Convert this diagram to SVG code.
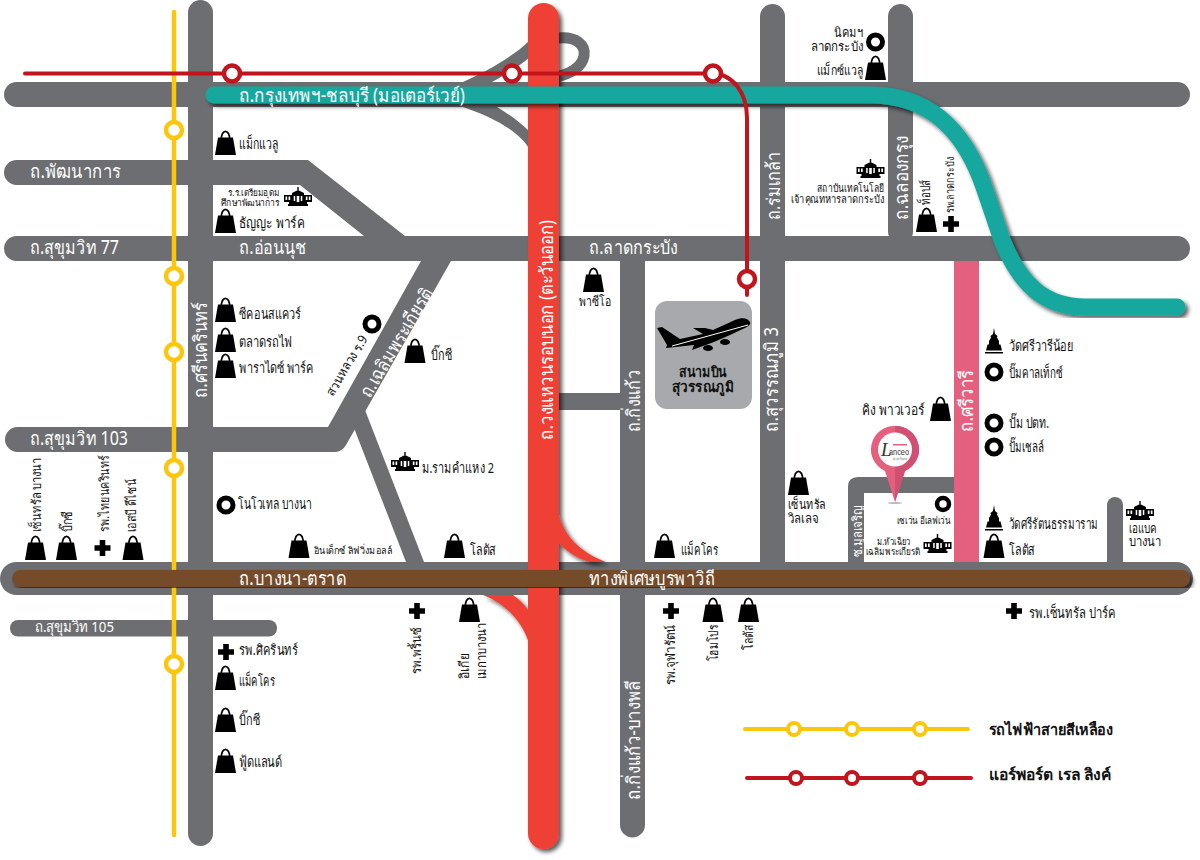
<svg xmlns="http://www.w3.org/2000/svg" width="1200" height="860" viewBox="0 0 1200 860">
<style>
text{font-family:"Noto Sans","Liberation Sans",sans-serif;font-size:14.500px;fill:#111}
.w{fill:#fff;font-size:19px}
.s{font-size:13px}
.b{font-weight:bold}
.road{fill:#6d6e71}
.rl{fill:none;stroke:#6d6e71;stroke-linecap:round}
.ys{fill:#fff;stroke:#fcc60d}
.rs{fill:#fff;stroke:#c1141c}
</style>
<defs>
<filter id="sh" x="-5%" y="-5%" width="110%" height="110%"><feDropShadow dx="3" dy="3" stdDeviation="2" flood-color="#000" flood-opacity=".65"/></filter>
<g id="bag"><path d="M3 7.500H18L21 25H0Z" fill="#000"/><path d="M6.300 10C6 -1.500 15 -1.500 14.700 10" fill="none" stroke="#000" stroke-width="1.700"/></g>
<circle id="ring" r="7" fill="#fff" stroke="#000" stroke-width="5"/>
<path id="cross" d="M-2.800 -8H2.800V-2.800H8V2.800H2.800V8H-2.800V2.800H-8V-2.800H-2.800Z" fill="#000"/>
<g id="bld" fill="#000"><path d="M-14 -4H-6V-6L0 -9L6 -6V-4H14V3H9V5H10V7H-10V5H-9V3H-14Z"/><path d="M-.700 -9V-12H.700V-9Z"/><rect x="-12.500" y="-2.500" width="1.700" height="3.500" fill="#fff"/><rect x="-9.500" y="-2.500" width="1.700" height="3.500" fill="#fff"/><rect x="7.800" y="-2.500" width="1.700" height="3.500" fill="#fff"/><rect x="10.800" y="-2.500" width="1.700" height="3.500" fill="#fff"/><rect x="-1.300" y="-3" width="2.600" height="6" fill="#fff"/><rect x="-4.300" y="-3" width="1.500" height="5" fill="#fff"/><rect x="2.800" y="-3" width="1.500" height="5" fill="#fff"/></g>
<path id="tmp" d="M0 -14L1 -8L3.500 -6L3 -4.500L5 -1V2.500H6.500L8 8.500H-8L-6.500 2.500H-5V-1L-3 -4.500L-3.500 -6L-1 -8ZM-9 10H9V11.500H-9Z" fill="#000"/>
</defs>

<g id="connectors">
<g id="roads">
<rect class="road" x="188" y="0" width="25" height="846" rx="12.500"/>
<rect class="road" x="4" y="82" width="1186" height="25" rx="12.500"/>
<path class="road" d="M16.500 160H308L405 236H364L300 185H16.500A12.500 12.500 0 0 1 16.500 160Z"/>
<rect class="road" x="4" y="236" width="1186" height="25" rx="12.500"/>
<path class="road" d="M17.500 427H328L421 261H451L346 445Q342 452 335 452H17.500A12.500 12.500 0 0 1 17.500 427Z"/>
<path class="road" d="M365 410L424 562H406L354 428Z"/>
<rect class="road" x="10" y="620" width="267" height="16.500" rx="8"/>
<path class="road" d="M620 255H645V825A12.500 12.500 0 0 1 620 825Z"/>
<rect class="road" x="558" y="393" width="62" height="17"/>
<rect class="road" x="760" y="4" width="25" height="570" rx="12.500"/>
<rect class="road" x="888" y="4" width="25" height="240" rx="12.500"/>
<path class="road" d="M848 570V487Q848 477 858 477H960V493H864V570Z"/>
<path class="road" d="M1107 570V505A8 8 0 0 1 1123 505V570Z"/>
<rect class="road" x="0" y="562" width="1193" height="33" rx="16.500"/>
<path class="road" d="M463 82C490 70 515 55 530 40V57C520 66 505 75 492 82Z"/>
<path class="rl" d="M558 38C576 36 586 45 584 56C582 67 572 74 552 78" stroke-width="11"/>
<path class="road" d="M463 107C495 118 520 132 530 150V132C520 122 510 115 497 107Z"/>
</g>
<path id="sriwari" d="M954 261H979V562H954Z" fill="#e5607f"/>
<g id="ring-road" filter="url(#sh)">
<path d="M558 510C562 535 580 552 606 562H590C575 558 565 550 558 542Z" fill="#ef4136"/>
<path d="M483 595C510 605 528 630 530 650V613C525 605 520 600 513 595Z" fill="#ef4136"/>
<rect x="528" y="3" width="31" height="846" rx="15.500" fill="#ef4136"/>
</g>
<line id="yellow-line" x1="174" y1="12" x2="174" y2="835" stroke="#fcc60d" stroke-width="4.500" stroke-linecap="round"/>
<path id="motorway" d="M214 95H870C930 95 965 130 985 190L1002 240C1020 285 1045 307 1085 307H1177" fill="none" stroke="#13a89e" stroke-width="17" stroke-linecap="round" filter="url(#sh)"/>
<rect id="bangna" x="12" y="570" width="1178" height="17" rx="8.500" fill="#754c29" filter="url(#sh)"/>
<path id="arl" d="M25 73.500H712C732 73.500 747 92 747 118V295" fill="none" stroke="#c1141c" stroke-width="4" stroke-linecap="round"/>
</g>

<g id="stations" stroke-width="4.500">
<circle class="ys" cx="174" cy="130" r="8"/><circle class="ys" cx="174" cy="276" r="8"/><circle class="ys" cx="174" cy="352" r="8"/><circle class="ys" cx="174" cy="468" r="8"/><circle class="ys" cx="174" cy="664" r="8"/>
<circle class="rs" cx="232" cy="73.500" r="8"/><circle class="rs" cx="512" cy="73.500" r="8"/><circle class="rs" cx="713" cy="73.500" r="8"/><circle class="rs" cx="747" cy="279" r="8"/>
</g>

<g id="road-labels">
<text class="w" x="239" y="102" textLength="226" lengthAdjust="spacingAndGlyphs">ถ.กรุงเทพฯ-ชลบุรี (มอเตอร์เวย์)</text>
<text class="w" x="30" y="178" textLength="91" lengthAdjust="spacingAndGlyphs">ถ.พัฒนาการ</text>
<text class="w" x="30" y="254" textLength="89" lengthAdjust="spacingAndGlyphs">ถ.สุขุมวิท 77</text>
<text class="w" x="239" y="254" textLength="67" lengthAdjust="spacingAndGlyphs">ถ.อ่อนนุช</text>
<text class="w" x="589" y="254" textLength="89" lengthAdjust="spacingAndGlyphs">ถ.ลาดกระบัง</text>
<text class="w" x="30" y="445" textLength="98" lengthAdjust="spacingAndGlyphs">ถ.สุขุมวิท 103</text>
<text class="w" x="239" y="585" textLength="107" lengthAdjust="spacingAndGlyphs">ถ.บางนา-ตราด</text>
<text class="w" x="589" y="585" textLength="126" lengthAdjust="spacingAndGlyphs">ทางพิเศษบูรพาวิถี</text>
<text class="w" x="35" y="632" style="font-size:15px" textLength="79" lengthAdjust="spacingAndGlyphs">ถ.สุขุมวิท 105</text>
<text class="w" transform="translate(780 220) rotate(-90)" textLength="68" lengthAdjust="spacingAndGlyphs">ถ.ร่มเกล้า</text>
<text class="w" transform="translate(908 220) rotate(-90)" textLength="84" lengthAdjust="spacingAndGlyphs">ถ.ฉลองกรุง</text>
<text class="w" transform="translate(207 398) rotate(-90)" textLength="96" lengthAdjust="spacingAndGlyphs">ถ.ศรีนครินทร์</text>
<text class="w" transform="translate(370 399) rotate(-59)" textLength="124" lengthAdjust="spacingAndGlyphs">ถ.เฉลิมพระเกียรติ</text>
<text class="w" transform="translate(553 440) rotate(-90)" textLength="220" lengthAdjust="spacingAndGlyphs">ถ.วงแหวนรอบนอก (ตะวันออก)</text>
<text class="w" transform="translate(640 432) rotate(-90)" textLength="62" lengthAdjust="spacingAndGlyphs">ถ.กิ่งแก้ว</text>
<text class="w" transform="translate(640 800) rotate(-90)" textLength="120" lengthAdjust="spacingAndGlyphs">ถ.กิ่งแก้ว-บางพลี</text>
<text class="w" transform="translate(778 432) rotate(-90)" textLength="105" lengthAdjust="spacingAndGlyphs">ถ.สุวรรณภูมิ 3</text>
<text class="w" transform="translate(973 432) rotate(-90)" textLength="62" lengthAdjust="spacingAndGlyphs">ถ.ศรีวารี</text>
<text class="w" transform="translate(862 557) rotate(-90)" style="font-size:13px" textLength="52" lengthAdjust="spacingAndGlyphs">ซ.มูลเจริญ</text>
</g>

<g id="airport">
<rect x="655" y="301" width="97" height="108" rx="12" fill="#a7a9ac"/>
<path d="M750 322C748 318 742 317 735 320L713 330L705 328L693 328L703 334L680 339L662 327L657 328L667 345L666 348L694 345L692 350L714 342L730 335L745 328C749 326 751 324 750 322Z" fill="#000"/>
<ellipse cx="708" cy="348" rx="5" ry="3" fill="#000"/>
<ellipse cx="725" cy="342" rx="5" ry="3" fill="#000"/>
<path d="M672 346L748 325" stroke="#fff" stroke-width="1"/>
<text class="b" x="703" y="377" text-anchor="middle" textLength="48" lengthAdjust="spacingAndGlyphs">สนามบิน</text>
<text class="b" x="703" y="392" text-anchor="middle" textLength="62" lengthAdjust="spacingAndGlyphs">สุวรรณภูมิ</text>
</g>

<g id="pin">
<ellipse cx="895" cy="503" rx="7" ry="1" fill="#bbb"/>
<path d="M895 426A23.500 23.500 0 0 0 885 471L895 502L905 471A23.500 23.500 0 0 0 895 426Z" fill="#e5607f"/>
<path d="M895 426A23.500 23.500 0 0 1 905 471L895 502Z" fill="#d14f70"/>
<circle cx="895" cy="449.500" r="17" fill="#fff"/>
<rect x="893" y="444" width="14" height="1.500" fill="#e5607f"/>
<text x="881" y="456" style="font-size:19px;fill:#333;font-style:italic;font-family:'Liberation Serif',serif">L</text>
<text x="889" y="455" style="font-size:9px;fill:#333;font-family:'Liberation Sans',sans-serif" textLength="20" lengthAdjust="spacingAndGlyphs">anceo</text>
<text x="893" y="460" style="font-size:3.500px;fill:#666;font-family:'Liberation Sans',sans-serif" textLength="14" lengthAdjust="spacingAndGlyphs">by Lalin Property</text>
</g>

<g id="pois">
<g id="p1"><use href="#bag" x="215" y="130"/><text x="239" y="149" textLength="39" lengthAdjust="spacingAndGlyphs">แม็กแวลู</text></g>
<g id="p2"><use href="#bld" x="298" y="199"/><text x="279" y="196" text-anchor="end" style="font-size:9.500px" textLength="51" lengthAdjust="spacingAndGlyphs">ร.ร.เตรียมอุดม</text><text x="279" y="206" text-anchor="end" style="font-size:9.500px" textLength="58" lengthAdjust="spacingAndGlyphs">ศึกษาพัฒนาการ</text></g>
<g id="p3"><use href="#bag" x="215" y="208"/><text x="239" y="228" textLength="66" lengthAdjust="spacingAndGlyphs">ธัญญะ พาร์ค</text></g>
<g id="p4"><use href="#ring" x="875.500" y="42"/><text class="s" x="863" y="37" text-anchor="end" textLength="29" lengthAdjust="spacingAndGlyphs">นิคมฯ</text><text class="s" x="863" y="51" text-anchor="end" textLength="52" lengthAdjust="spacingAndGlyphs">ลาดกระบัง</text></g>
<g id="p5"><use href="#bag" x="865" y="55"/><text class="s" x="863" y="75" text-anchor="end" textLength="46" lengthAdjust="spacingAndGlyphs">แม็กซ์แวลู</text></g>
<g id="p6"><use href="#bld" x="870.500" y="171"/><text x="884" y="192" text-anchor="end" style="font-size:11px" textLength="67" lengthAdjust="spacingAndGlyphs">สถาบันเทคโนโลยี</text><text x="884" y="203" text-anchor="end" style="font-size:11px" textLength="93" lengthAdjust="spacingAndGlyphs">เจ้าคุณทหารลาดกระบัง</text></g>
<g id="p7"><use href="#bag" x="916" y="207"/><text class="s" transform="translate(930 205) rotate(-90)" textLength="25" lengthAdjust="spacingAndGlyphs">ท็อปส์</text></g>
<g id="p8"><use href="#cross" x="951" y="224"/><text transform="translate(954 213) rotate(-90)" style="font-size:11px" textLength="56" lengthAdjust="spacingAndGlyphs">รพ.ลาดกระบัง</text></g>
<g id="p9"><use href="#bag" x="583" y="267"/><text class="s" x="579" y="306" textLength="32" lengthAdjust="spacingAndGlyphs">พาซีโอ</text></g>
<g id="p10"><use href="#bag" x="215" y="297"/><text x="239" y="319" textLength="62" lengthAdjust="spacingAndGlyphs">ซีคอนสแควร์</text></g>
<g id="p11"><use href="#bag" x="215" y="327"/><text x="239" y="347" textLength="53" lengthAdjust="spacingAndGlyphs">ตลาดรถไฟ</text></g>
<g id="p12"><use href="#bag" x="215" y="353"/><text x="239" y="373" textLength="75" lengthAdjust="spacingAndGlyphs">พาราไดซ์ พาร์ค</text></g>
<g id="p13"><use href="#bag" x="404.500" y="338"/><text x="431" y="360" textLength="21" lengthAdjust="spacingAndGlyphs">บิ๊กซี</text></g>
<g id="p14"><use href="#ring" x="372" y="324"/><text class="s" transform="translate(333 397) rotate(-59)" textLength="68" lengthAdjust="spacingAndGlyphs">สวนหลวง ร.9</text></g>
<g id="p15"><use href="#bag" x="930" y="396"/><text x="925" y="415" text-anchor="end" textLength="63" lengthAdjust="spacingAndGlyphs">คิง พาวเวอร์</text></g>
<g id="p16"><use href="#tmp" x="994" y="342"/><text x="1009" y="351" textLength="64" lengthAdjust="spacingAndGlyphs">วัดศรีวารีน้อย</text></g>
<g id="p17"><use href="#ring" x="994" y="372"/><text x="1009" y="378" textLength="54" lengthAdjust="spacingAndGlyphs">ปั๊มคาลเท็กซ์</text></g>
<g id="p18"><use href="#ring" x="994" y="423"/><text x="1009" y="428" textLength="40" lengthAdjust="spacingAndGlyphs">ปั๊ม ปตท.</text></g>
<g id="p19"><use href="#ring" x="994" y="447"/><text x="1009" y="452" textLength="35" lengthAdjust="spacingAndGlyphs">ปั๊มเชลล์</text></g>
<g id="p20"><use href="#tmp" x="994" y="519"/><text x="1009" y="529" textLength="89" lengthAdjust="spacingAndGlyphs">วัดศรีรัตนธรรมาราม</text></g>
<g id="p21"><use href="#bag" x="983.500" y="533"/><text x="1009" y="555" textLength="26" lengthAdjust="spacingAndGlyphs">โลตัส</text></g>
<g id="p22"><use href="#bag" x="788" y="470"/><text class="s" x="788" y="509" textLength="38" lengthAdjust="spacingAndGlyphs">เซ็นทรัล</text><text class="s" x="788" y="523" textLength="31" lengthAdjust="spacingAndGlyphs">วิลเลจ</text></g>
<g id="p23"><circle cx="943" cy="504" r="6" fill="#fff" stroke="#000" stroke-width="4.500"/><text x="951" y="524" text-anchor="end" style="font-size:10px" textLength="54" lengthAdjust="spacingAndGlyphs">เซเว่น อีเลฟเว่น</text></g>
<g id="p24"><use href="#bld" x="937.500" y="546"/><text x="911" y="545" text-anchor="end" style="font-size:10px" textLength="34" lengthAdjust="spacingAndGlyphs">ม.หัวเฉียว</text><text x="920" y="555" text-anchor="end" style="font-size:10px" textLength="54" lengthAdjust="spacingAndGlyphs">เฉลิมพระเกียรติ</text></g>
<g id="p25"><use href="#bld" x="1140" y="513"/><text class="s" x="1129" y="533" textLength="28" lengthAdjust="spacingAndGlyphs">เอแบค</text><text class="s" x="1129" y="546" textLength="32" lengthAdjust="spacingAndGlyphs">บางนา</text></g>
<g id="p26"><use href="#bag" x="654" y="533"/><text x="681" y="555" textLength="37" lengthAdjust="spacingAndGlyphs">แม็คโคร</text></g>
<g id="p27"><use href="#bag" x="444" y="533"/><text x="470" y="555" textLength="26" lengthAdjust="spacingAndGlyphs">โลตัส</text></g>
<g id="p28"><use href="#bag" x="288.500" y="533"/><text x="314" y="554" style="font-size:10px" textLength="78" lengthAdjust="spacingAndGlyphs">อินเด็กซ์ ลิฟวิ่งมอลล์</text></g>
<g id="p29"><use href="#bld" x="405" y="464"/><text x="422" y="473" textLength="72" lengthAdjust="spacingAndGlyphs">ม.รามคำแหง 2</text></g>
<g id="p30"><use href="#ring" x="226" y="505"/><text x="238" y="509" textLength="74" lengthAdjust="spacingAndGlyphs">โนโวเทล บางนา</text></g>
<g id="p31"><use href="#bag" x="25" y="535"/><text class="s" transform="translate(41 532) rotate(-90)" textLength="74" lengthAdjust="spacingAndGlyphs">เซ็นทรัล บางนา</text></g>
<g id="p32"><use href="#bag" x="56" y="535"/><text class="s" transform="translate(72 532) rotate(-90)" textLength="21" lengthAdjust="spacingAndGlyphs">บิ๊กซี</text></g>
<g id="p33"><use href="#cross" x="102.500" y="548"/><text class="s" transform="translate(109 532) rotate(-90)" textLength="77" lengthAdjust="spacingAndGlyphs">รพ.ไทยนครินทร์</text></g>
<g id="p34"><use href="#bag" x="122.500" y="535"/><text class="s" transform="translate(136 532) rotate(-90)" textLength="53" lengthAdjust="spacingAndGlyphs">เอสบี ดีไซน์</text></g>
<g id="p35"><use href="#cross" x="226" y="652"/><text x="239" y="655" textLength="59" lengthAdjust="spacingAndGlyphs">รพ.ศิครินทร์</text></g>
<g id="p36"><use href="#bag" x="215" y="665"/><text x="239" y="686" textLength="36" lengthAdjust="spacingAndGlyphs">แม็คโคร</text></g>
<g id="p37"><use href="#bag" x="215" y="707"/><text x="239" y="725" textLength="21" lengthAdjust="spacingAndGlyphs">บิ๊กซี</text></g>
<g id="p38"><use href="#bag" x="215" y="748"/><text x="239" y="767" textLength="43" lengthAdjust="spacingAndGlyphs">ฟู้ดแลนด์</text></g>
<g id="p39"><use href="#cross" x="417" y="611"/><text class="s" transform="translate(421 674) rotate(-90)" textLength="47" lengthAdjust="spacingAndGlyphs">รพ.พริ้นซ์</text></g>
<g id="p40"><use href="#bag" x="459" y="597"/><text class="s" transform="translate(469 679) rotate(-90)" textLength="26" lengthAdjust="spacingAndGlyphs">อิเกีย</text><text class="s" transform="translate(486 679) rotate(-90)" textLength="56" lengthAdjust="spacingAndGlyphs">เมกาบางนา</text></g>
<g id="p41"><use href="#cross" x="671" y="611"/><text class="s" transform="translate(675 685) rotate(-90)" textLength="60" lengthAdjust="spacingAndGlyphs">รพ.จุฬารัตน์</text></g>
<g id="p42"><use href="#bag" x="702.500" y="597"/><text class="s" transform="translate(718 661) rotate(-90)" textLength="36" lengthAdjust="spacingAndGlyphs">โฮมโปร</text></g>
<g id="p43"><use href="#bag" x="738" y="597"/><text class="s" transform="translate(753 650) rotate(-90)" textLength="25" lengthAdjust="spacingAndGlyphs">โลตัส</text></g>
<g id="p44"><use href="#cross" x="1014" y="611"/><text x="1029" y="618" textLength="87" lengthAdjust="spacingAndGlyphs">รพ.เซ็นทรัล ปาร์ค</text></g>
</g>

<g id="legend">
<line x1="745" y1="729" x2="968" y2="729" stroke="#fcc60d" stroke-width="4" stroke-linecap="round"/>
<g stroke-width="4"><circle class="ys" cx="794" cy="729" r="6"/><circle class="ys" cx="852" cy="729" r="6"/><circle class="ys" cx="920" cy="729" r="6"/></g>
<text class="b" x="989" y="735" style="font-size:15.500px" textLength="124" lengthAdjust="spacingAndGlyphs">รถไฟฟ้าสายสีเหลือง</text>
<line x1="747" y1="778" x2="971" y2="778" stroke="#c1141c" stroke-width="4" stroke-linecap="round"/>
<g stroke-width="4"><circle class="rs" cx="796" cy="778" r="6"/><circle class="rs" cx="852" cy="778" r="6"/><circle class="rs" cx="920" cy="778" r="6"/></g>
<text class="b" x="989" y="780" style="font-size:15.500px" textLength="122" lengthAdjust="spacingAndGlyphs">แอร์พอร์ต เรล ลิงค์</text>
</g>
</svg>
